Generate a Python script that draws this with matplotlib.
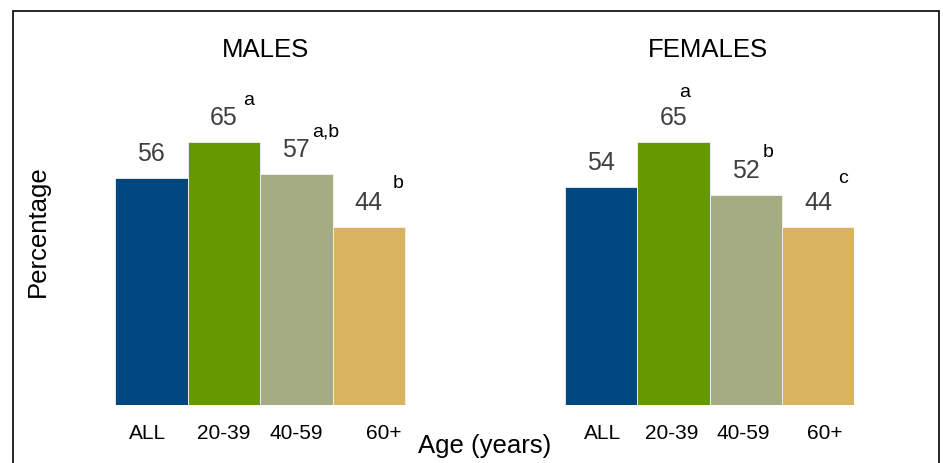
import matplotlib
matplotlib.use("Agg")
import matplotlib.pyplot as plt
from matplotlib.patches import Rectangle

plt.rcParams["font.family"] = ["Liberation Sans", "DejaVu Sans"]

# Data
groups = ["MALES", "FEMALES"]
age_labels = ["ALL", "20-39", "40-59", "60+"]
males = [56, 65, 57, 44]
females = [54, 65, 52, 44]
males_sig = ["", "a", "a,b", "b"]
females_sig = ["", "a", "b", "c"]

colors = ["#00467F", "#669900", "#A5AC82", "#D9B35F"]
value_color = "#404040"

W, H = 943, 464
fig = plt.figure(figsize=(W / 100, H / 100), dpi=100)

# Axes spanning both groups; one bar width = one x unit
px_per_unit = 72.5
x_left_px, x_right_px = 115, 854
base_px, top_px = 406, 12
px_per_pct = 4.045
ax = fig.add_axes([x_left_px / W, (H - base_px) / H,
                   (x_right_px - x_left_px) / W, (base_px - top_px) / H])
ax.set_xlim(-0.5, -0.5 + (x_right_px - x_left_px) / px_per_unit)
ax.set_ylim(0, (base_px - top_px) / px_per_pct)
ax.axis("off")

group_start = [0.0, 6.2]
series = [males, females]
sigs = [males_sig, females_sig]

# superscript offsets (points) relative to bar centre / bar top
sig_offsets = [
    [None, (18, 27.5), (21, 28), (21, 29)],
    [None, (8, 33), (16, 28), (18, 32.5)],
]
# tick label horizontal nudges (points)
tick_nudge = [[-3, 0, 0, 11], [1, -1, -2, 5]]
# title horizontal nudges (pixels)
title_nudge = [6, -1.5]

for g, (start, vals) in enumerate(zip(group_start, series)):
    xs = [start + i for i in range(len(vals))]
    ax.bar(xs, vals, width=1.0, color=colors, edgecolor="#F2F2F2",
           linewidth=0.6)
    for i, (x, v) in enumerate(zip(xs, vals)):
        ax.annotate(str(v), (x, v), xytext=(0, 13), textcoords="offset points",
                    ha="center", va="baseline", fontsize=18, color=value_color)
        if sigs[g][i]:
            dx, dy = sig_offsets[g][i]
            ax.annotate(sigs[g][i], (x, v), xytext=(dx, dy),
                        textcoords="offset points", ha="center",
                        va="baseline", fontsize=14, color="black")
        ax.annotate(age_labels[i], (x, 0), xycoords="data",
                    xytext=(tick_nudge[g][i], -19.5), textcoords="offset points",
                    ha="center", va="center", fontsize=15, color="black")
    # group title centred over its four bars
    ax.annotate(groups[g], (start + 1.5, 0),
                xycoords=("data", "figure fraction"),
                xytext=(title_nudge[g], H - 57), textcoords="offset pixels",
                ha="center", va="baseline", fontsize=18.5, color="black")

fig.text(485 / W, 1 - 453 / H, "Age (years)", ha="center", va="baseline",
         fontsize=18.5)
fig.text(38 / W, 1 - 231 / H, "Percentage", ha="center", va="center",
         rotation=90, fontsize=18.5)

# outer frame
fig.patches.append(Rectangle((13 / W, -0.05), (939 - 13) / W, 1.05 - 12 / H,
                             transform=fig.transFigure, fill=False,
                             edgecolor="black", linewidth=1.2))

fig.savefig("out.png", dpi=100, facecolor="white")
